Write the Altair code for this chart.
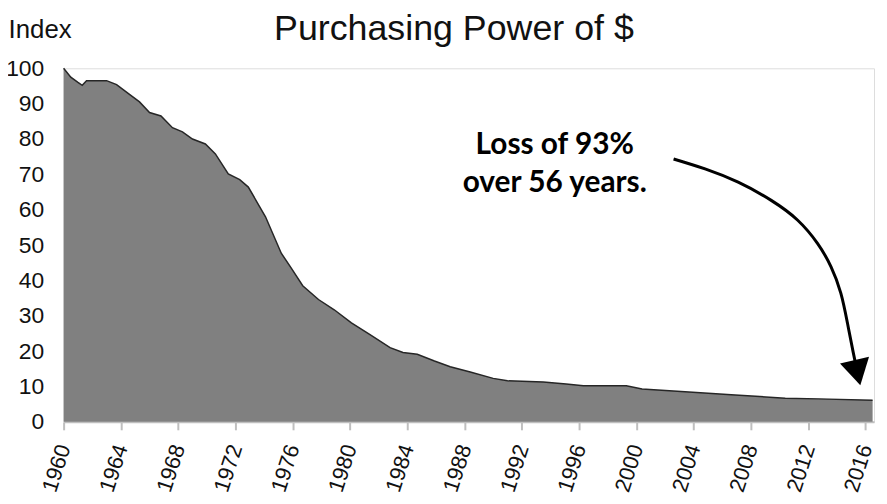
import altair as alt
import pandas as pd

# Purchasing power index (1960 = 100)
years = [1960.0, 1960.5, 1961.0, 1961.3, 1961.6, 1963.0, 1963.7, 1964.6, 1965.3, 1966.0,
         1966.8, 1967.6, 1968.3, 1969.0, 1969.9, 1970.6, 1971.5, 1972.3, 1972.9, 1974.1,
         1975.2, 1975.9, 1976.7, 1977.8, 1978.9, 1980.1, 1981.4, 1982.8, 1983.7, 1984.7,
         1985.9, 1987.0, 1988.4, 1990.0, 1991.0, 1993.5, 1995.1, 1996.3, 1999.3, 2000.4,
         2003.4, 2006.9, 2010.4, 2012.7, 2016.5]
values = [100.0, 97.5, 96.0, 95.2, 96.5, 96.5, 95.4, 92.6, 90.5, 87.5,
          86.5, 83.2, 82.0, 80.0, 78.6, 75.8, 70.1, 68.5, 66.4, 58.0,
          47.7, 43.5, 38.5, 34.6, 31.7, 28.0, 24.7, 21.0, 19.6, 19.1,
          17.2, 15.6, 14.1, 12.3, 11.6, 11.3, 10.7, 10.2, 10.2, 9.3,
          8.5, 7.6, 6.7, 6.5, 6.1]

tick_years = list(range(1960, 2017, 4))
y_ticks = list(range(0, 101, 10))

# Annotation (data units)
note_lines = ["Loss of 93%", "over 56 years."]
note_x = [1994.3, 1994.3]
note_y = [75.8, 65.0]
arrow_x = [2002.60, 2004.80, 2007.11, 2009.42, 2011.27, 2012.65, 2013.59, 2014.28, 2014.74, 2015.15, 2015.44]
arrow_y = [74.35, 71.54, 67.78, 62.64, 57.02, 50.48, 43.91, 36.43, 28.01, 19.58, 13.9]
head_x = [2015.44]
head_y = [13.9]

df = pd.DataFrame({"year": years, "value": values})
notes = pd.DataFrame({"text": note_lines, "year": note_x, "value": note_y})
arrow = pd.DataFrame({"year": arrow_x, "value": arrow_y, "order": list(range(len(arrow_x)))})
head = pd.DataFrame({"year": head_x, "value": head_y})

xscale = alt.Scale(domain=[1960, 2016.6], nice=False, zero=False)
yscale = alt.Scale(domain=[0, 100], nice=False)

x_axis = alt.Axis(values=tick_years, format="d", labelAngle=-72,
                  labelFontSize=22, labelFont="Liberation Sans", labelColor="#111",
                  tickColor="#bfbfbf", tickWidth=2, tickSize=8,
                  domainColor="#bfbfbf", domainWidth=2, labelPadding=15, grid=False)
y_axis = alt.Axis(values=y_ticks, titleAngle=0, titleAlign="left",
                  titleBaseline="alphabetic", titleX=-56, titleY=-31,
                  titleFontSize=26, titleFontWeight="normal", titleFont="Liberation Sans",
                  titleColor="#111",
                  labelFontSize=23, labelFont="Liberation Sans", labelColor="#111",
                  ticks=False, domain=False, labelPadding=20, grid=False)

x_enc = alt.X("year:Q", scale=xscale, axis=x_axis, title=None)
y_enc = alt.Y("value:Q", scale=yscale, axis=y_axis, title="Index")

area = alt.Chart(df).mark_area(
    color="#808080", line={"color": "#262626", "strokeWidth": 1.5}, opacity=1
).encode(x=x_enc, y=y_enc)

arrow_line = alt.Chart(arrow).mark_line(color="black", strokeWidth=3, interpolate="natural").encode(
    x=x_enc, y=y_enc, order="order:Q",
)

arrow_head = alt.Chart(head).mark_point(
    shape="triangle-down", size=900, filled=True, color="black", opacity=1, angle=347
).encode(x=x_enc, y=y_enc)

note = alt.Chart(notes).mark_text(
    font="Lato", fontWeight="bold", fontSize=30, align="center", baseline="alphabetic", color="black"
).encode(x=x_enc, y=y_enc, text="text:N")

chart = alt.layer(area, arrow_line, arrow_head, note).properties(
    width=816,
    height=356,
    title=alt.TitleParams("Purchasing Power of $", fontSize=36, font="Liberation Sans",
                          fontWeight="normal", anchor="middle", frame="group", dx=-15,
                          offset=-60, baseline="alphabetic", color="#111"),
    autosize=alt.AutoSizeParams(type="none"),
    padding={"left": 56, "top": 59, "right": 5, "bottom": 80},
).configure_view(stroke="#d9d9d9", strokeWidth=2).configure(background="white")

chart.save("out.html", embed_options={"renderer": "svg", "actions": False})
